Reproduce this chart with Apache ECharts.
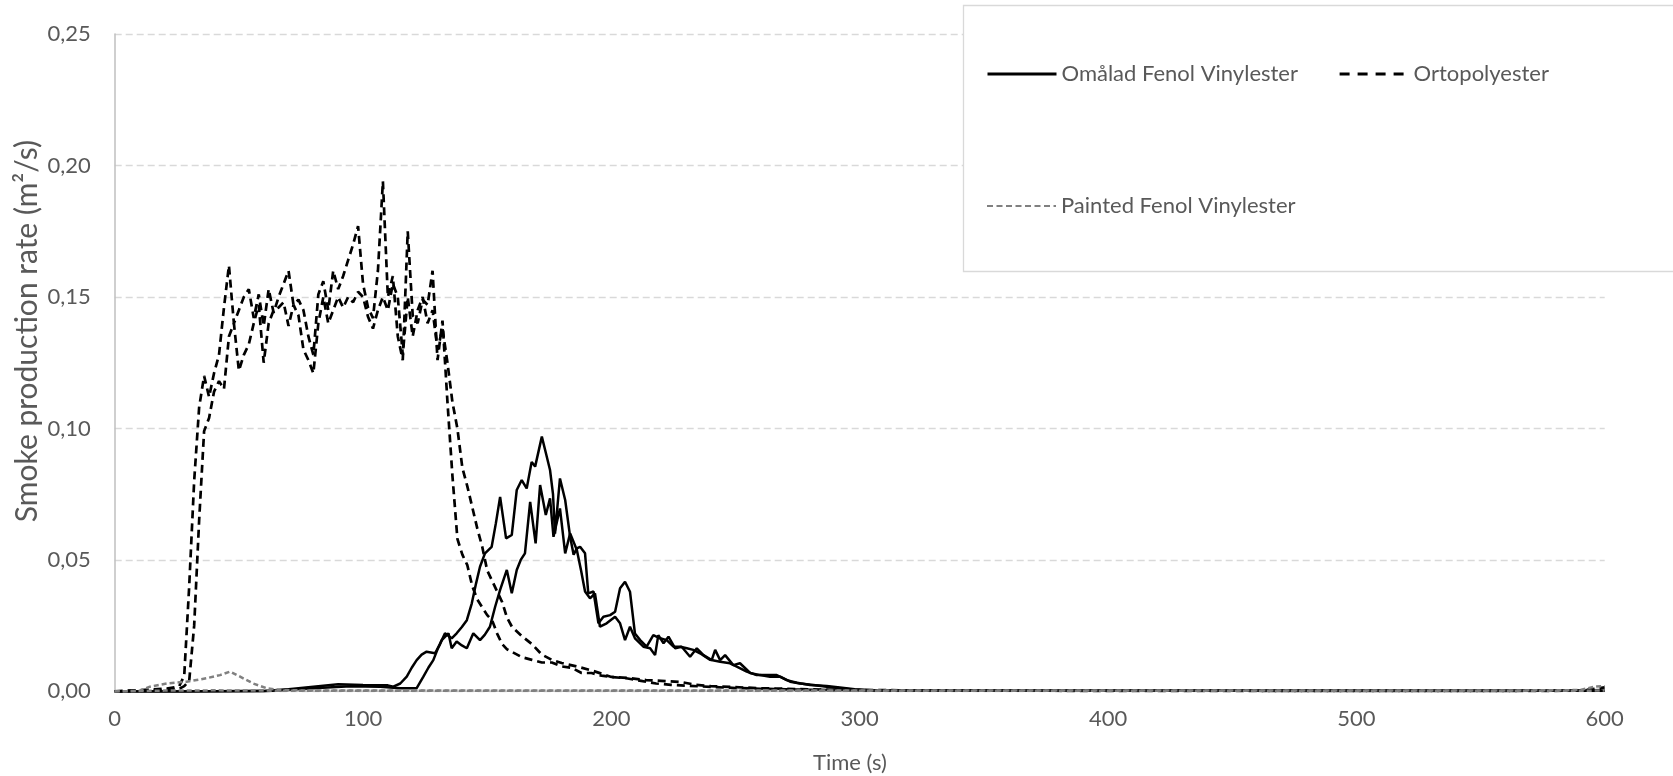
<!DOCTYPE html>
<html>
<head>
<meta charset="utf-8">
<script src="https://cdn.jsdelivr.net/npm/echarts@6/dist/echarts.min.js"></script>
<style>
html,body{margin:0;padding:0;background:#fff;}
#chart{width:1673px;height:776px;}
</style>
</head>
<body>
<div id="chart"></div>
<script>
// ---- data: [time (s), smoke production rate (m2/s)] ----
const seriesNames = ['Omålad Fenol Vinylester', 'Ortopolyester', 'Painted Fenol Vinylester'];
const xTicks = [0, 100, 200, 300, 400, 500, 600];
const yTicks = [0, 0.05, 0.10, 0.15, 0.20, 0.25];

const omalad1 = [[0,0],[30,0],[60,0.0002],[70,0.0008],[80,0.0018],[90,0.0027],[100,0.0024],[110,0.0023],[112.2,0.0018],[115,0.003],[117.6,0.0056],[119.6,0.009],[121.6,0.0119],[123.6,0.014],[125.6,0.0151],[127.3,0.0148],[129,0.0145],[131,0.018],[133,0.0221],[135.7,0.0202],[137.7,0.0221],[139.8,0.0245],[141.8,0.0271],[143.8,0.0335],[145.5,0.041],[147.1,0.0474],[149.1,0.0525],[151.8,0.055],[153.5,0.064],[155.2,0.074],[157.6,0.0582],[159.9,0.0595],[161.9,0.0766],[163.9,0.0804],[165.9,0.0772],[167.9,0.0873],[169.3,0.0855],[172,0.0969],[173.8,0.09],[175.3,0.0842],[176.5,0.075],[177.3,0.06],[179.3,0.081],[181.4,0.0728],[183.4,0.0588],[184.8,0.052],[186.1,0.0544],[187.4,0.055],[189.4,0.0525],[190.7,0.0373],[192.8,0.038],[194.8,0.0259],[196.8,0.0284],[199.5,0.029],[201.5,0.0303],[203.5,0.0392],[205.5,0.0417],[207.5,0.0379],[209.5,0.022],[211.6,0.0195],[214.2,0.017],[216.9,0.0214],[219.6,0.0202],[222.3,0.0195],[225,0.017],[227.7,0.017],[230.4,0.0164],[233,0.0158],[235.7,0.0145],[239.8,0.012],[243.8,0.0113],[247.8,0.0107],[250.5,0.0094],[254.5,0.0075],[258.5,0.0062],[262.6,0.0062],[266.6,0.0062],[270.6,0.0043],[274.7,0.0033],[280,0.0024],[286.7,0.0021],[292,0.0015],[298,0.0008],[305,0.0004],[320,0.0003],[340,0.0002],[400,0.0002],[460,0.0002],[520,0.0002],[600,0.0002]];

const omalad2 = [[0,0],[30,0],[60,0.0001],[80,0.0012],[95,0.002],[106.9,0.0018],[114.9,0.0012],[121.6,0.0012],[124.3,0.0056],[126.3,0.009],[128.3,0.0119],[130,0.016],[131.7,0.0195],[134.4,0.0221],[135.7,0.0164],[137.7,0.019],[139.8,0.0175],[141.8,0.0164],[144.4,0.0221],[147.1,0.0195],[149,0.0215],[151.1,0.0246],[153.2,0.0322],[155.2,0.0386],[157.9,0.0462],[159.9,0.0373],[161.9,0.0462],[163.5,0.05],[165.2,0.0525],[167.3,0.0721],[169.5,0.0563],[171.3,0.0785],[173.6,0.0671],[175.3,0.0734],[176.7,0.0588],[179.3,0.0696],[181.4,0.0525],[183.4,0.0601],[186.1,0.0538],[187.8,0.046],[189.4,0.038],[191.4,0.0354],[193.4,0.0373],[195.4,0.0246],[198.1,0.0259],[201.5,0.0284],[203.5,0.0259],[205.5,0.0195],[207.5,0.0246],[209.5,0.0202],[212.9,0.017],[215.6,0.0164],[217.6,0.0138],[218.9,0.0214],[221,0.0183],[223,0.0208],[225.7,0.0164],[228.3,0.017],[231.7,0.0132],[234.4,0.0164],[237.1,0.0138],[240.4,0.0119],[241.8,0.0158],[243.8,0.0119],[245.8,0.0138],[249.1,0.01],[251.8,0.0107],[255.9,0.007],[259.9,0.0062],[263.9,0.0056],[268,0.0056],[272,0.0037],[276,0.003],[281.4,0.0024],[286.7,0.0018],[292,0.0012],[298,0.0006],[305,0.0003],[330,0.0004],[360,0.0002],[420,0.0002],[480,0.0003],[540,0.0002],[600,0.0002]];

const orto1 = [[0,0],[5,0.0003],[10,0.0005],[15,0.0008],[20,0.001],[24,0.0015],[26,0.002],[28,0.006],[30,0.04],[32,0.08],[34,0.108],[36,0.12],[38,0.112],[40,0.121],[42,0.128],[44,0.146],[46,0.162],[48,0.14],[50,0.145],[52,0.15],[54,0.153],[56,0.142],[58,0.151],[60,0.139],[62,0.153],[64,0.144],[66,0.15],[68,0.155],[70,0.16],[72,0.147],[74,0.149],[76,0.145],[78,0.135],[80,0.128],[82,0.151],[84,0.156],[86,0.145],[88,0.16],[90,0.153],[92,0.158],[94,0.164],[96,0.17],[98,0.177],[100,0.155],[102,0.146],[104,0.142],[106,0.16],[108,0.194],[110,0.15],[112,0.158],[114,0.135],[116,0.126],[118,0.175],[120,0.143],[122,0.14],[124,0.149],[126,0.147],[128,0.16],[130,0.126],[132,0.141],[134,0.11],[136,0.082],[138,0.058],[140,0.052],[142,0.048],[144,0.04],[146,0.035],[148,0.032],[150,0.029],[152,0.027],[154,0.022],[156,0.018],[158,0.016],[160,0.015],[164,0.013],[168,0.012],[172,0.011],[176,0.011],[180,0.0095],[184,0.009],[188,0.007],[192,0.007],[196,0.006],[200,0.0055],[206,0.005],[212,0.004],[218,0.003],[224,0.0025],[230,0.0022],[240,0.0017],[250,0.0013],[260,0.001],[270,0.0008],[280,0.0006],[290,0.0005],[300,0.0004],[320,0.0003],[350,0.0003],[400,0.0002],[450,0.0002],[500,0.0002],[550,0.0002],[590,0.0003],[600,0.0015]];

const orto2 = [[0,0],[10,0.0002],[20,0.0005],[26,0.001],[28,0.002],[30,0.004],[32,0.025],[34,0.065],[36,0.099],[38,0.104],[40,0.114],[42,0.118],[44,0.115],[46,0.135],[48,0.14],[50,0.122],[52,0.128],[54,0.132],[56,0.14],[58,0.147],[60,0.125],[62,0.14],[64,0.145],[66,0.146],[68,0.148],[70,0.139],[72,0.147],[74,0.143],[76,0.13],[78,0.126],[80,0.121],[82,0.14],[84,0.15],[86,0.14],[88,0.145],[90,0.15],[92,0.146],[94,0.15],[96,0.148],[98,0.152],[100,0.15],[102,0.1425],[104,0.138],[106,0.145],[108,0.15],[110,0.145],[112,0.155],[114,0.15],[116,0.128],[118,0.15],[120,0.135],[122,0.145],[124,0.15],[126,0.14],[128,0.145],[130,0.13],[132,0.138],[134,0.125],[136,0.11],[138,0.1],[140,0.085],[142,0.078],[144,0.07],[146,0.062],[148,0.055],[150,0.046],[152,0.042],[154,0.038],[156,0.034],[158,0.028],[160,0.0245],[164,0.021],[168,0.018],[172,0.014],[176,0.012],[180,0.0108],[186,0.0095],[192,0.008],[200,0.0055],[208,0.005],[214,0.0043],[220,0.004],[228,0.0036],[234,0.0025],[240,0.002],[248,0.0017],[260,0.0012],[270,0.001],[280,0.0008],[290,0.0006],[300,0.0005],[330,0.0004],[380,0.0003],[430,0.0003],[480,0.0002],[530,0.0002],[580,0.0002],[600,0.0005]];

const painted1 = [[0,0],[10,0.0002],[14.2,0.0018],[20.9,0.003],[29,0.0037],[37,0.005],[42.4,0.0062],[46.4,0.0075],[50.5,0.0056],[55.8,0.003],[61.2,0.0012],[66.6,0.0005],[80,0.0003],[150,0.0003],[250,0.0003],[350,0.0003],[450,0.0003],[550,0.0003],[590,0.0005],[596,0.0018],[600,0.002]];

const painted2 = [[0,0],[20,0.0003],[40,0.0004],[60,0.0003],[100,0.0002],[200,0.0002],[300,0.0002],[400,0.0002],[500,0.0002],[600,0.0003]];

// ---- chart ----
const FONT = 'Lato';
const GREY_TEXT = '#595959';
const chart = echarts.init(document.getElementById('chart'), null, {renderer: 'canvas'});

function lineSeries(name, data, color, type, width, z) {
  return {
    name: name, type: 'line', data: data, showSymbol: false, symbol: 'none',
    smooth: false, z: z,
    lineStyle: {color: color, width: width, type: type},
    itemStyle: {color: color},
    emphasis: {disabled: true}
  };
}

const legendBase = {
  orient: 'horizontal', itemWidth: 69, itemHeight: 14, z: 10,
  textStyle: {fontFamily: FONT, fontSize: 22, color: GREY_TEXT},
  itemStyle: {opacity: 0},
  selectedMode: false
};

const option = {
  animation: false,
  backgroundColor: '#ffffff',
  grid: {left: 114.7, right: 68.3, top: 34.1, bottom: 84.6},
  xAxis: {
    type: 'value', min: xTicks[0], max: xTicks[xTicks.length - 1], interval: 100,
    axisLine: {show: true, lineStyle: {color: '#d9d9d9', width: 1}},
    axisTick: {show: false},
    splitLine: {show: false},
    axisLabel: {fontFamily: FONT, fontSize: 22, color: GREY_TEXT, margin: 17}
  },
  yAxis: {
    type: 'value', min: yTicks[0], max: yTicks[yTicks.length - 1], interval: 0.05,
    axisLine: {show: true, lineStyle: {color: '#bfbfbf', width: 1.5}},
    axisTick: {show: false},
    splitLine: {show: true, lineStyle: {color: '#d9d9d9', width: 1.3, type: [7, 4]}},
    axisLabel: {fontFamily: FONT, fontSize: 22, color: GREY_TEXT, margin: 24,
      formatter: v => v.toFixed(2).replace('.', ',')}
  },
  legend: [
    Object.assign({}, legendBase, {data: [seriesNames[0]], left: 981, top: 58,
      lineStyle: {width: 3}}),
    Object.assign({}, legendBase, {data: [seriesNames[1]], left: 1333, top: 58,
      lineStyle: {width: 3.2, type: [10, 8]}}),
    Object.assign({}, legendBase, {data: [seriesNames[2]], left: 981, top: 190,
      lineStyle: {width: 2, type: [6, 3.5]}})
  ],
  graphic: [
    {type: 'rect', z: 5, shape: {x: 963.5, y: 5.5, width: 800, height: 266}, style: {fill: '#ffffff', stroke: '#d9d9d9', lineWidth: 1.3}},
    {type: 'text', z: 5, x: 27, y: 331, rotation: Math.PI / 2,
      style: {text: 'Smoke production rate (m²/s)', fontFamily: FONT, fontSize: 30, fill: GREY_TEXT, align: 'center', verticalAlign: 'middle'}},
    {type: 'text', z: 5, x: 850, y: 763,
      style: {text: 'Time (s)', fontFamily: FONT, fontSize: 22, fill: GREY_TEXT, align: 'center', verticalAlign: 'middle'}}
  ],
  series: [
    lineSeries(seriesNames[0], omalad1, '#000000', 'solid', 2.5, 3),
    lineSeries(seriesNames[0], omalad2, '#000000', 'solid', 2.5, 3),
    lineSeries(seriesNames[1], orto1, '#000000', [8, 5], 2.7, 3),
    lineSeries(seriesNames[1], orto2, '#000000', [8, 5], 2.7, 3),
    lineSeries(seriesNames[2], painted1, '#808080', [5, 3], 2.5, 4),
    lineSeries(seriesNames[2], painted2, '#808080', [5, 3], 2.5, 4)
  ]
};
chart.setOption(option);
</script>
</body>
</html>
